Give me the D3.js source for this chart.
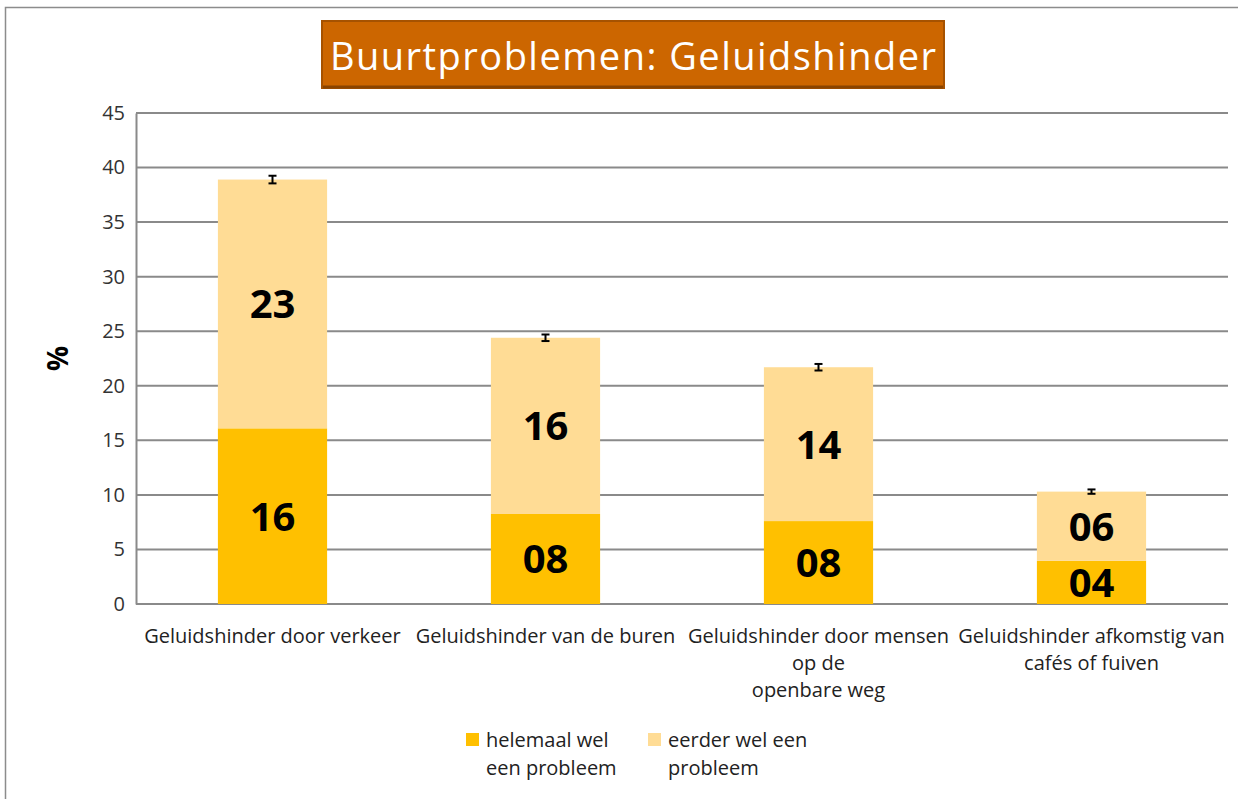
<!DOCTYPE html>
<html>
<head>
<meta charset="utf-8">
<script src="https://cdn.jsdelivr.net/npm/d3@7"></script>
<style>
  body { margin: 0; background: #fff; }
  text { font-family: "Open Sans", Lato, sans-serif; }
</style>
</head>
<body>
<div class="chart"></div>
<script>
// data
var categories = [
  ["Geluidshinder door verkeer"],
  ["Geluidshinder van de buren"],
  ["Geluidshinder door mensen", "op de", "openbare weg"],
  ["Geluidshinder afkomstig van", "cafés of fuiven"]
];
var helemaal = [16.1, 8.25, 7.6, 3.95];
var eerder = [22.8, 16.15, 14.1, 6.35];
var helemaalLabels = ["16", "08", "08", "04"];
var eerderLabels = ["23", "16", "14", "06"];
var errorMargin = [0.35, 0.3, 0.3, 0.2];
var yTicks = [0, 5, 10, 15, 20, 25, 30, 35, 40, 45];
var seriesNames = [["helemaal wel", "een probleem"], ["eerder wel een", "probleem"]];
var colors = ["#FFC000", "#FFDC95"];

var svgWidth = 1238;
var svgHeight = 799;
var margin = {top: 113, right: 10, bottom: 195, left: 136};
var width = 1228 - margin.left;
var height = 604 - margin.top;

var svg = d3.select(".chart").append("svg")
  .attr("width", svgWidth)
  .attr("height", svgHeight);

// outer frame
svg.append("rect")
  .attr("x", 5.5).attr("y", 7.5)
  .attr("width", 1250).attr("height", 820)
  .attr("fill", "none").attr("stroke", "#8c8c8c").attr("stroke-width", 1.5);

// title box
var title = svg.append("g");
title.append("rect")
  .attr("x", 322).attr("y", 21).attr("width", 622).attr("height", 67)
  .attr("fill", "#CC6600").attr("stroke", "#A65200").attr("stroke-width", 2);
title.append("line")
  .attr("x1", 323).attr("x2", 943).attr("y1", 87).attr("y2", 87)
  .attr("stroke", "#8A4400").attr("stroke-width", 3);
title.append("text")
  .attr("x", 633).attr("y", 70)
  .attr("text-anchor", "middle")
  .attr("fill", "#fff")
  .attr("font-size", 38)
  .attr("textLength", 606)
  .text("Buurtproblemen: Geluidshinder");

var chart = svg.append("g")
  .attr("transform", "translate(" + margin.left + "," + margin.top + ")");

var x = d3.scaleBand().domain(d3.range(categories.length)).range([0, width]).paddingInner(0.6).paddingOuter(0.3);
var y = d3.scaleLinear().domain([0, 45]).range([height, 0]);

// gridlines
chart.append("g").selectAll("line").data(yTicks).enter().append("line")
  .attr("x1", 0).attr("x2", width)
  .attr("y1", function(d) { return y(d); }).attr("y2", function(d) { return y(d); })
  .attr("stroke", "#8a8a8a").attr("stroke-width", 2);

// y axis
var leftAxis = d3.axisLeft(y).tickValues(yTicks).tickSize(0).tickPadding(11);
var yg = chart.append("g").call(leftAxis);
yg.select(".domain").attr("stroke", "#8a8a8a").attr("stroke-width", 2);
yg.selectAll("text").attr("font-size", 20).attr("fill", "#333").attr("font-family", "'Open Sans', sans-serif");

chart.append("text")
  .attr("transform", "translate(-68," + y(22.5) + ") rotate(-90)")
  .attr("text-anchor", "middle")
  .attr("font-size", 28).attr("font-weight", "bold")
  .attr("fill", "#000")
  .text("%");

// stacked bars
var idx = d3.range(categories.length);
chart.append("g").selectAll("rect").data(idx).enter().append("rect")
  .attr("x", function(i) { return x(i); })
  .attr("width", x.bandwidth())
  .attr("y", function(i) { return y(helemaal[i]); })
  .attr("height", function(i) { return y(0) - y(helemaal[i]); })
  .attr("fill", colors[0]);

chart.append("g").selectAll("rect").data(idx).enter().append("rect")
  .attr("x", function(i) { return x(i); })
  .attr("width", x.bandwidth())
  .attr("y", function(i) { return y(helemaal[i] + eerder[i]); })
  .attr("height", function(i) { return y(helemaal[i]) - y(helemaal[i] + eerder[i]); })
  .attr("fill", colors[1]);

// value labels
chart.append("g").selectAll("text").data(idx).enter().append("text")
  .attr("x", function(i) { return x(i) + x.bandwidth() / 2; })
  .attr("y", function(i) { return y(helemaal[i] / 2); })
  .attr("dy", "0.36em")
  .attr("text-anchor", "middle")
  .attr("font-size", 40).attr("font-weight", "bold")
  .text(function(i) { return helemaalLabels[i]; });

chart.append("g").selectAll("text").data(idx).enter().append("text")
  .attr("x", function(i) { return x(i) + x.bandwidth() / 2; })
  .attr("y", function(i) { return y(helemaal[i] + eerder[i] / 2); })
  .attr("dy", "0.36em")
  .attr("text-anchor", "middle")
  .attr("font-size", 40).attr("font-weight", "bold")
  .text(function(i) { return eerderLabels[i]; });

// error bars
var err = chart.append("g").selectAll("g").data(idx).enter().append("g")
  .attr("stroke", "#000").attr("stroke-width", 2);
err.append("line")
  .attr("x1", function(i) { return x(i) + x.bandwidth() / 2; })
  .attr("x2", function(i) { return x(i) + x.bandwidth() / 2; })
  .attr("y1", function(i) { return y(helemaal[i] + eerder[i] + errorMargin[i]); })
  .attr("y2", function(i) { return y(helemaal[i] + eerder[i] - errorMargin[i]); });
err.append("line")
  .attr("x1", function(i) { return x(i) + x.bandwidth() / 2 - 4; })
  .attr("x2", function(i) { return x(i) + x.bandwidth() / 2 + 4; })
  .attr("y1", function(i) { return y(helemaal[i] + eerder[i] + errorMargin[i]); })
  .attr("y2", function(i) { return y(helemaal[i] + eerder[i] + errorMargin[i]); });
err.append("line")
  .attr("x1", function(i) { return x(i) + x.bandwidth() / 2 - 4; })
  .attr("x2", function(i) { return x(i) + x.bandwidth() / 2 + 4; })
  .attr("y1", function(i) { return y(helemaal[i] + eerder[i] - errorMargin[i]); })
  .attr("y2", function(i) { return y(helemaal[i] + eerder[i] - errorMargin[i]); });

// category labels
var cat = chart.append("g").selectAll("text").data(idx).enter().append("text")
  .attr("x", function(i) { return x(i) + x.bandwidth() / 2; })
  .attr("y", height + 39)
  .attr("text-anchor", "middle")
  .attr("font-size", 20).attr("fill", "#222");
cat.selectAll("tspan").data(function(i) { return categories[i]; }).enter().append("tspan")
  .attr("x", function() { return d3.select(this.parentNode).attr("x"); })
  .attr("dy", function(d, j) { return j === 0 ? 0 : 27; })
  .text(function(d) { return d; });

// legend
var legend = svg.append("g").selectAll("g").data(seriesNames).enter().append("g")
  .attr("transform", function(d, i) { return "translate(" + (466 + i * 182) + ",733)"; });
legend.append("rect").attr("width", 13).attr("height", 13)
  .attr("fill", function(d, i) { return colors[i]; });
var lt = legend.append("text").attr("x", 20).attr("y", 14).attr("font-size", 20).attr("fill", "#222");
lt.selectAll("tspan").data(function(d) { return d; }).enter().append("tspan")
  .attr("x", 20)
  .attr("dy", function(d, j) { return j === 0 ? 0 : 28; })
  .text(function(d) { return d; });
</script>
</body>
</html>
